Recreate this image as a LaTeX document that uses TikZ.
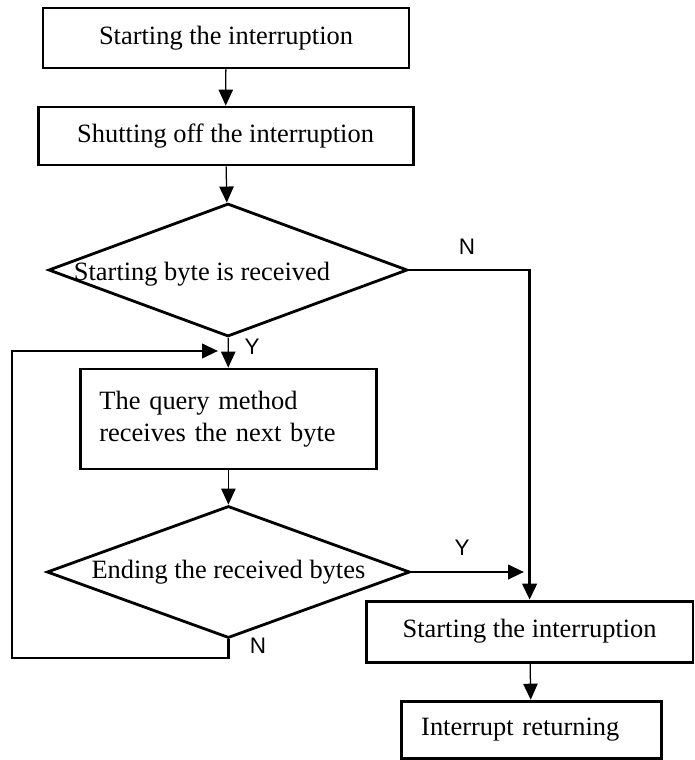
\documentclass[tikz,border=0pt]{standalone}
\usepackage{fontspec}
\setmainfont{Liberation Serif}
\setsansfont{Liberation Sans}
\usepackage{tikz}
\usetikzlibrary{positioning, arrows.meta, shapes.geometric}

\begin{document}
\begin{tikzpicture}[
    process/.style={rectangle, draw, line width=2pt, minimum height=1.5cm, font={\fontsize{18.8}{22.6}\selectfont}},
    decision/.style={diamond, draw, line width=2pt, inner sep=0pt, aspect=2.7, font={\fontsize{18.8}{22.6}\selectfont}},
    arrow/.style={-{Triangle[length=0.4cm, width=0.36cm]}, line width=0.9pt},
    flow/.style={-{Triangle[length=0.4cm, width=0.36cm]}, line width=2pt},
    yn/.style={font={\sffamily\fontsize{16}{19}\selectfont}}
]
\useasboundingbox (0,0) rectangle (17.35,-19);

% Main column
\node[process, minimum width=9.15cm] (start) at (5.65, -0.95) {Starting the interruption};
\node[process, minimum width=9.375cm, minimum height=1.45cm] (shutoff) at (5.64, -3.4) {Shutting off the interruption};

\node[decision, minimum width=8.975cm, minimum height=3.325cm] (startbyte) at (5.7, -6.75) {};
\node[font={\fontsize{18.8}{22.6}\selectfont}] (startbyte-text) at (5.05, -6.85) {Starting byte is received};

\node[process, text width=6.45cm, inner xsep=0.48cm, align=left, minimum height=2.5cm] (query) at (5.71, -10.475) {The query method\\receives the next byte};

\node[decision, minimum width=9.075cm, minimum height=3.3cm] (ending) at (5.71, -14.3) {Ending the received bytes};

% Right column
\node[process, minimum width=8.17cm, minimum height=1.525cm] (restart) at (13.24, -15.79) {Starting the interruption};
\node[process, text width=5.5cm, inner xsep=0.5cm, align=left, minimum height=1.425cm] (return) at (13.28, -18.24) {Interrupt returning};

% Free ends and corners
\coordinate (yes-end) at (13.1, -14.3);
\coordinate (loop-bottom) at (0.3, -16.45);
\coordinate (loop-top) at (0.3, -8.775);
\coordinate (loop-in) at (5.45, -8.775);

% Arrows
\draw[arrow] (start) -- (shutoff);
\draw[arrow] (shutoff) -- (startbyte);
\draw[arrow] (startbyte) -- (query);
\draw[arrow] (query) -- (ending);
\draw[flow] (startbyte.east) -| (restart.north);
\draw[flow] (ending.east) -- (yes-end);
\draw[arrow] (restart) -- (return);
\draw[flow] (ending.south) |- (loop-bottom) -- (loop-top) -- (loop-in);

% Branch labels
\node[yn] (n-first) at (11.675, -6.175) {N};
\node[yn] (y-first) at (6.3, -8.675) {Y};
\node[yn] (y-second) at (11.55, -13.7) {Y};
\node[yn] (n-second) at (6.45, -16.15) {N};

\end{tikzpicture}
\end{document}
